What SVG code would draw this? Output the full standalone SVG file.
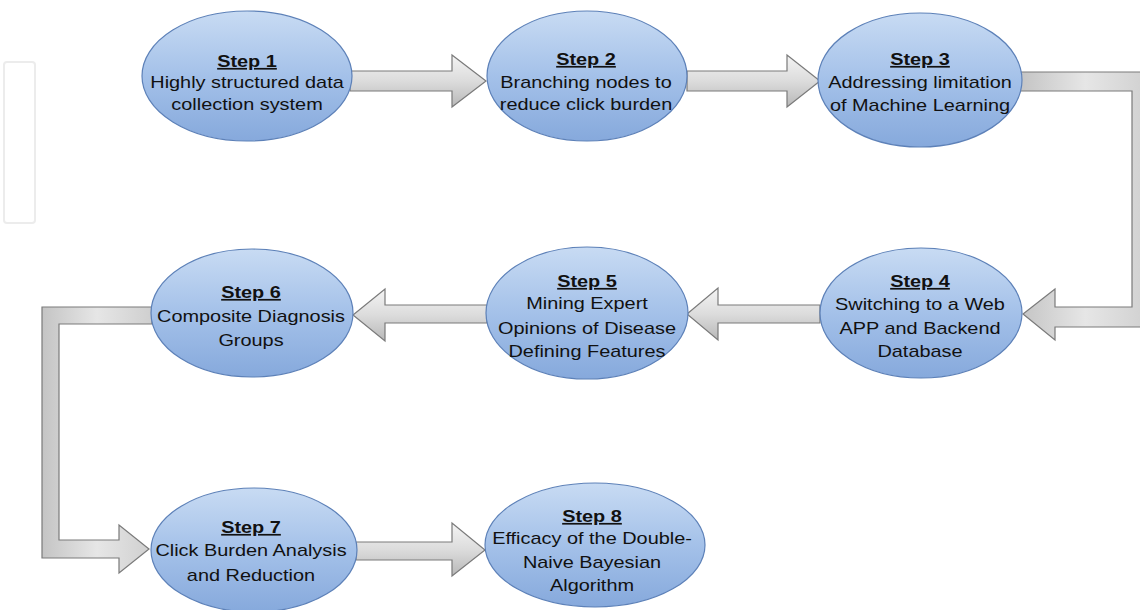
<svg xmlns="http://www.w3.org/2000/svg" width="1140" height="610" viewBox="0 0 1140 610">
<defs>
<linearGradient id="blue" x1="0" y1="0" x2="0" y2="1">
<stop offset="0" stop-color="#c8dbf3"/>
<stop offset="0.5" stop-color="#a4c1e9"/>
<stop offset="1" stop-color="#86a9dc"/>
</linearGradient>
<linearGradient id="grayV" x1="0" y1="0" x2="0" y2="1">
<stop offset="0" stop-color="#f4f4f4"/>
<stop offset="0.5" stop-color="#dcdcdc"/>
<stop offset="1" stop-color="#b8b8b8"/>
</linearGradient>
<linearGradient id="grayH" x1="0" y1="0" x2="1" y2="0">
<stop offset="0" stop-color="#c4c4c4"/>
<stop offset="0.5" stop-color="#e6e6e6"/>
<stop offset="1" stop-color="#cfcfcf"/>
</linearGradient>
</defs>
<style>
.node ellipse{fill:url(#blue);stroke:#5d81b8;stroke-width:1.2}
.arrow{fill:url(#grayV);stroke:#7a7a7a;stroke-width:1.2;stroke-linejoin:miter}
.elbow{fill:url(#grayH);stroke:#7a7a7a;stroke-width:1.2}
text{font-family:"Liberation Sans",Arial,Helvetica,sans-serif;font-size:17px;fill:#111;text-anchor:middle}
.t{font-weight:bold;text-decoration:underline}
</style>
<rect x="4" y="62" width="31" height="161" rx="3" fill="#ffffff" stroke="#ececec" stroke-width="2"/>
<g id="connectors">
<path class="arrow" d="M350,71 L452,71 L452,55 L486,81 L452,107 L452,91 L350,91 Z"/>
<path class="arrow" d="M687,71 L787,71 L787,55 L820,81 L787,107 L787,91 L687,91 Z"/>
<path class="elbow" d="M1020,72 L1151,72 L1151,327 L1055,327 L1055,340 L1023,314 L1055,289 L1055,307 L1132,307 L1132,91 L1020,91 Z"/>
<path class="arrow" d="M820,305 L718,305 L718,288 L687,314 L718,340 L718,323 L820,323 Z"/>
<path class="arrow" d="M487,305 L385,305 L385,289 L353,315 L385,341 L385,323 L487,323 Z"/>
<path class="elbow" d="M152,307 L42,307 L42,558 L119,558 L119,573 L149,549 L119,525 L119,540 L59,540 L59,324 L152,324 Z"/>
<path class="arrow" d="M356,542 L452,542 L452,523 L485,550 L452,576 L452,560 L356,560 Z"/>
</g>
<g id="step1" class="node">
<ellipse cx="247" cy="76" rx="105" ry="65"/>
<g transform="translate(247,0) scale(1.17,1)">
<text class="t" x="0" y="67">Step 1</text>
<text x="0" y="88">Highly structured data</text>
<text x="0" y="110">collection system</text>
</g>
</g>
<g id="step2" class="node">
<ellipse cx="587" cy="76" rx="100" ry="65"/>
<g transform="translate(586,0) scale(1.17,1)">
<text class="t" x="0" y="65">Step 2</text>
<text x="0" y="88">Branching nodes to</text>
<text x="0" y="110">reduce click burden</text>
</g>
</g>
<g id="step3" class="node">
<ellipse cx="920" cy="80" rx="102" ry="67"/>
<g transform="translate(920,0) scale(1.17,1)">
<text class="t" x="0" y="65">Step 3</text>
<text x="0" y="88">Addressing limitation</text>
<text x="0" y="111">of Machine Learning</text>
</g>
</g>
<g id="step4" class="node">
<ellipse cx="921" cy="313" rx="101" ry="65"/>
<g transform="translate(920,0) scale(1.17,1)">
<text class="t" x="0" y="287">Step 4</text>
<text x="0" y="310">Switching to a Web</text>
<text x="0" y="334">APP and Backend</text>
<text x="0" y="357">Database</text>
</g>
</g>
<g id="step5" class="node">
<ellipse cx="587" cy="313" rx="101" ry="66"/>
<g transform="translate(587,0) scale(1.17,1)">
<text class="t" x="0" y="287">Step 5</text>
<text x="0" y="309">Mining Expert</text>
<text x="0" y="334">Opinions of Disease</text>
<text x="0" y="357">Defining Features</text>
</g>
</g>
<g id="step6" class="node">
<ellipse cx="252" cy="313" rx="101" ry="64"/>
<g transform="translate(251,0) scale(1.17,1)">
<text class="t" x="0" y="298">Step 6</text>
<text x="0" y="322">Composite Diagnosis</text>
<text x="0" y="346">Groups</text>
</g>
</g>
<g id="step7" class="node">
<ellipse cx="254" cy="550" rx="103" ry="62"/>
<g transform="translate(251,0) scale(1.17,1)">
<text class="t" x="0" y="533">Step 7</text>
<text x="0" y="556">Click Burden Analysis</text>
<text x="0" y="581">and Reduction</text>
</g>
</g>
<g id="step8" class="node">
<ellipse cx="595" cy="545" rx="110" ry="62"/>
<g transform="translate(592,0) scale(1.17,1)">
<text class="t" x="0" y="522">Step 8</text>
<text x="0" y="544">Efficacy of the Double-</text>
<text x="0" y="568">Naive Bayesian</text>
<text x="0" y="591">Algorithm</text>
</g>
</g>
</svg>
